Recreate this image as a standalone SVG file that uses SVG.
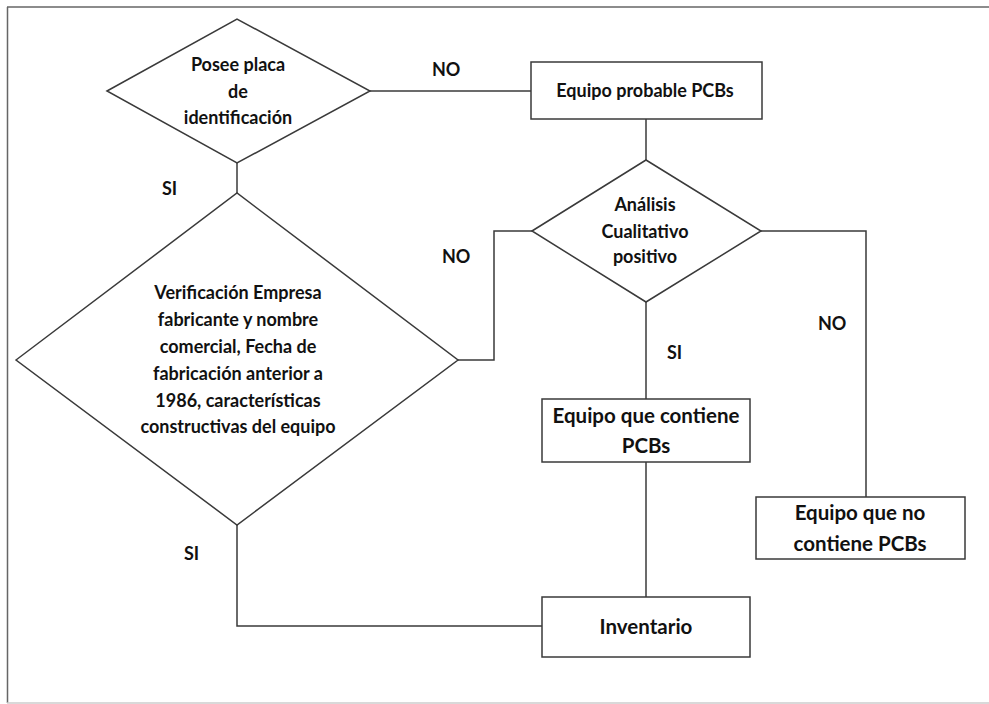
<svg xmlns="http://www.w3.org/2000/svg" width="989" height="704" viewBox="0 0 989 704">
<style>
.shape{fill:#fff;stroke:#3a3a3a;stroke-width:1.5}
.conn{fill:none;stroke:#3a3a3a;stroke-width:1.5}
text{font-family:Lato,"Liberation Sans",sans-serif;font-weight:bold;fill:#111;text-anchor:middle}
.t16{font-size:18px}
.t18{font-size:20.5px}
.lbl{font-size:18px;text-anchor:start}
</style>
<rect width="989" height="704" fill="#fff"/>
<g id="frame">
<line x1="7" y1="7" x2="989" y2="7" stroke="#666" stroke-width="1.5"/>
<line x1="7.5" y1="7" x2="7.5" y2="703" stroke="#666" stroke-width="1.5"/>
<line x1="7" y1="703" x2="989" y2="703" stroke="#ccc" stroke-width="1.5"/>
</g>
<g id="connectors">
<polyline class="conn" points="370,91 531,91"/>
<polyline class="conn" points="237,163 237,193"/>
<polyline class="conn" points="646,119 646,160"/>
<polyline class="conn" points="458,360 494,360 494,231 532,231"/>
<polyline class="conn" points="646,302 646,399"/>
<polyline class="conn" points="761,231 866,231 866,497"/>
<polyline class="conn" points="646,462 646,597"/>
<polyline class="conn" points="237,525 237,626 542,626"/>
</g>
<g id="labels">
<text class="lbl" x="432" y="76">NO</text>
<text class="lbl" x="162" y="195">SI</text>
<text class="lbl" x="442" y="263">NO</text>
<text class="lbl" x="818" y="330">NO</text>
<text class="lbl" x="667" y="359">SI</text>
<text class="lbl" x="184" y="560">SI</text>
</g>
<g id="posee">
<polygon class="shape" points="107,91 237,19 370,91 237,163"/>
<text class="t16" x="238" y="71">Posee placa</text>
<text class="t16" x="238" y="98">de</text>
<text class="t16" x="238" y="124">identificación</text>
</g>
<g id="verificacion">
<polygon class="shape" points="16,360 237,193 458,360 237,525"/>
<text class="t16" x="238" y="299">Verificación Empresa</text>
<text class="t16" x="238" y="326">fabricante y nombre</text>
<text class="t16" x="238" y="353">comercial, Fecha de</text>
<text class="t16" x="238" y="380">fabricación anterior a</text>
<text class="t16" x="238" y="407">1986, características</text>
<text class="t16" x="238" y="433">constructivas del equipo</text>
</g>
<g id="probable">
<rect class="shape" x="531" y="62" width="231" height="57"/>
<text class="t16" x="645" y="97">Equipo probable PCBs</text>
</g>
<g id="analisis">
<polygon class="shape" points="532,231 646,160 761,231 646,302"/>
<text class="t16" x="645" y="211">Análisis</text>
<text class="t16" x="645" y="238">Cualitativo</text>
<text class="t16" x="645" y="263">positivo</text>
</g>
<g id="contiene">
<rect class="shape" x="542" y="399" width="208" height="63"/>
<text class="t18" x="646" y="423">Equipo que contiene</text>
<text class="t18" x="646" y="453">PCBs</text>
</g>
<g id="nocontiene">
<rect class="shape" x="756" y="497" width="209" height="62"/>
<text class="t18" x="860" y="520">Equipo que no</text>
<text class="t18" x="860" y="551">contiene PCBs</text>
</g>
<g id="inventario">
<rect class="shape" x="542" y="597" width="208" height="60"/>
<text class="t18" x="646" y="634">Inventario</text>
</g>
</svg>
